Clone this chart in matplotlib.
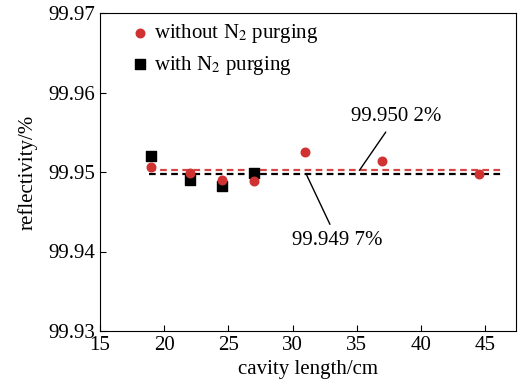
import numpy as np
import matplotlib
matplotlib.use('Agg')
import matplotlib.pyplot as plt

plt.rcParams['font.family'] = ['Liberation Serif', 'DejaVu Serif']
plt.rcParams['mathtext.fontset'] = 'stix'

# data
x_without = [19, 22, 24.5, 27, 31, 37, 44.5]
y_without = [99.9506, 99.9499, 99.9490, 99.9489, 99.9525, 99.9514, 99.9497]
x_with = [19, 22, 24.5, 27]
y_with = [99.9520, 99.9490, 99.9482, 99.9499]
mean_without = 99.9502
mean_with = 99.9497
mean_span = [18.8, 46.2]

fs = 15

fig = plt.figure(figsize=(5.19, 3.89), dpi=100)
ax = fig.add_axes([100/519, 1-331/389, (516-100)/519, (331-13)/389])

ax.plot(mean_span, [mean_without]*2, linestyle=(0, (3, 2)), color='#d64545', lw=1.6, zorder=1)
ax.plot(mean_span, [mean_with]*2, linestyle=(0, (3, 2)), color='black', lw=1.6, zorder=1)

ax.scatter(x_without, y_without, s=38, marker='o', color='#d03232', label=r'without N$_2$ purging', zorder=3)
ax.scatter(x_with, y_with, s=48, marker='s', color='black', label=r'with N$_2$ purging', zorder=2)

ax.annotate('99.950 2%', xy=(35.2, mean_without), xytext=(38.1, 99.9570),
            ha='center', va='center', fontsize=fs,
            arrowprops=dict(arrowstyle='-', color='black', lw=1, shrinkA=3, shrinkB=0))
ax.annotate('99.949 7%', xy=(31.1, mean_with - 0.0001), xytext=(33.5, 99.9414),
            ha='center', va='center', fontsize=fs,
            arrowprops=dict(arrowstyle='-', color='black', lw=1, shrinkA=3, shrinkB=0))

ax.set_xlim(15, 47.4)
ax.set_ylim(99.93, 99.97)
ax.set_xticks([15, 20, 25, 30, 35, 40, 45])
ax.set_yticks([99.93, 99.94, 99.95, 99.96, 99.97])
ax.set_yticklabels(['99.93', '99.94', '99.95', '99.96', '99.97'])
ax.tick_params(direction='in', labelsize=fs, length=4, top=False, right=False)
ax.set_xlabel('cavity length/cm', fontsize=fs, labelpad=4)
ax.set_ylabel('reflectivity/%', fontsize=fs, labelpad=8)

ax.legend(loc='upper left', bbox_to_anchor=(0.02, 1.03), frameon=False, fontsize=fs,
          handletextpad=0.1, labelspacing=0.4, handlelength=1.2)

fig.savefig('out.png', dpi=100)
